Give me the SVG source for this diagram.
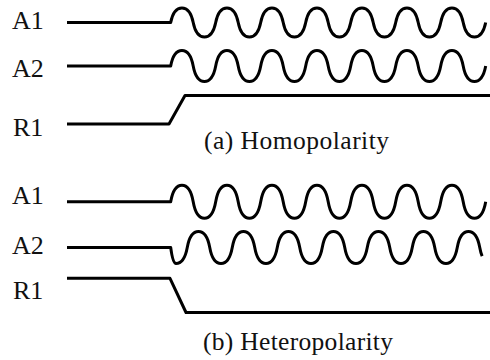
<svg xmlns="http://www.w3.org/2000/svg" width="490" height="360" viewBox="0 0 490 360">
<style>
.sig{fill:none;stroke:#000;stroke-width:3;stroke-linejoin:round;stroke-linecap:butt}
.lbl{font-family:"Liberation Serif","Times New Roman",serif;font-size:26px;fill:#111}
.cap{font-family:"Liberation Serif","Times New Roman",serif;font-size:25.5px;fill:#111}
</style>
<rect width="490" height="360" fill="#fff"/>
<g id="labels-a">
<text class="lbl" x="12" y="29">A1</text>
<text class="lbl" x="12" y="77">A2</text>
<text class="lbl" x="13" y="136">R1</text>
<text class="cap" x="204" y="149" textLength="185" lengthAdjust="spacing">(a) Homopolarity</text>
</g>
<g id="labels-b">
<text class="lbl" x="12" y="204">A1</text>
<text class="lbl" x="12" y="254">A2</text>
<text class="lbl" x="13" y="299">R1</text>
<text class="cap" x="203" y="350" textLength="190" lengthAdjust="spacing">(b) Heteropolarity</text>
</g>
<g id="connectors">
<path id="a-A1" class="sig" d="M67,22.5 H170.7
c1.7,-8.7 5.6,-14.5 11.25,-14.5 c5.6,0 9.5,5.8 11.25,14.5 c1.7,8.7 5.6,14.5 11.25,14.5 c5.6,0 9.5,-5.8 11.25,-14.5
c1.7,-8.7 5.6,-14.5 11.25,-14.5 c5.6,0 9.5,5.8 11.25,14.5 c1.7,8.7 5.6,14.5 11.25,14.5 c5.6,0 9.5,-5.8 11.25,-14.5
c1.7,-8.7 5.6,-14.5 11.25,-14.5 c5.6,0 9.5,5.8 11.25,14.5 c1.7,8.7 5.6,14.5 11.25,14.5 c5.6,0 9.5,-5.8 11.25,-14.5
c1.7,-8.7 5.6,-14.5 11.25,-14.5 c5.6,0 9.5,5.8 11.25,14.5 c1.7,8.7 5.6,14.5 11.25,14.5 c5.6,0 9.5,-5.8 11.25,-14.5
c1.7,-8.7 5.6,-14.5 11.25,-14.5 c5.6,0 9.5,5.8 11.25,14.5 c1.7,8.7 5.6,14.5 11.25,14.5 c5.6,0 9.5,-5.8 11.25,-14.5
c1.7,-8.7 5.6,-14.5 11.25,-14.5 c5.6,0 9.5,5.8 11.25,14.5 c1.7,8.7 5.6,14.5 11.25,14.5 c5.6,0 9.5,-5.8 11.25,-14.5
c1.7,-8.7 5.6,-14.5 11.25,-14.5 c5.6,0 9.5,5.8 11.25,14.5 c1.7,8.7 5.6,14.5 11.25,14.5 c5.6,0 9.5,-5.8 11.25,-14.5"/>
<path id="a-A2" class="sig" d="M67,66 H170.7
c1.7,-9.3 5.6,-15.5 11.25,-15.5 c5.6,0 9.5,6.2 11.25,15.5 c1.7,9.3 5.6,15.5 11.25,15.5 c5.6,0 9.5,-6.2 11.25,-15.5
c1.7,-9.3 5.6,-15.5 11.25,-15.5 c5.6,0 9.5,6.2 11.25,15.5 c1.7,9.3 5.6,15.5 11.25,15.5 c5.6,0 9.5,-6.2 11.25,-15.5
c1.7,-9.3 5.6,-15.5 11.25,-15.5 c5.6,0 9.5,6.2 11.25,15.5 c1.7,9.3 5.6,15.5 11.25,15.5 c5.6,0 9.5,-6.2 11.25,-15.5
c1.7,-9.3 5.6,-15.5 11.25,-15.5 c5.6,0 9.5,6.2 11.25,15.5 c1.7,9.3 5.6,15.5 11.25,15.5 c5.6,0 9.5,-6.2 11.25,-15.5
c1.7,-9.3 5.6,-15.5 11.25,-15.5 c5.6,0 9.5,6.2 11.25,15.5 c1.7,9.3 5.6,15.5 11.25,15.5 c5.6,0 9.5,-6.2 11.25,-15.5
c1.7,-9.3 5.6,-15.5 11.25,-15.5 c5.6,0 9.5,6.2 11.25,15.5 c1.7,9.3 5.6,15.5 11.25,15.5 c5.6,0 9.5,-6.2 11.25,-15.5
c1.7,-9.3 5.6,-15.5 11.25,-15.5 c5.6,0 9.5,6.2 11.25,15.5 c1.7,9.3 5.6,15.5 11.25,15.5 c5.6,0 9.5,-6.2 11.25,-15.5"/>
<path id="a-R1" class="sig" d="M67,124 H169 L185,95.5 H490"/>
<path id="b-A1" class="sig" d="M67,201.7 H170.7
c1.7,-9.9 5.6,-16.5 11.25,-16.5 c5.6,0 9.5,6.6 11.25,16.5 c1.7,9.9 5.6,16.5 11.25,16.5 c5.6,0 9.5,-6.6 11.25,-16.5
c1.7,-9.9 5.6,-16.5 11.25,-16.5 c5.6,0 9.5,6.6 11.25,16.5 c1.7,9.9 5.6,16.5 11.25,16.5 c5.6,0 9.5,-6.6 11.25,-16.5
c1.7,-9.9 5.6,-16.5 11.25,-16.5 c5.6,0 9.5,6.6 11.25,16.5 c1.7,9.9 5.6,16.5 11.25,16.5 c5.6,0 9.5,-6.6 11.25,-16.5
c1.7,-9.9 5.6,-16.5 11.25,-16.5 c5.6,0 9.5,6.6 11.25,16.5 c1.7,9.9 5.6,16.5 11.25,16.5 c5.6,0 9.5,-6.6 11.25,-16.5
c1.7,-9.9 5.6,-16.5 11.25,-16.5 c5.6,0 9.5,6.6 11.25,16.5 c1.7,9.9 5.6,16.5 11.25,16.5 c5.6,0 9.5,-6.6 11.25,-16.5
c1.7,-9.9 5.6,-16.5 11.25,-16.5 c5.6,0 9.5,6.6 11.25,16.5 c1.7,9.9 5.6,16.5 11.25,16.5 c5.6,0 9.5,-6.6 11.25,-16.5
c1.7,-9.9 5.6,-16.5 11.25,-16.5 c5.6,0 9.5,6.6 11.25,16.5 c1.7,9.9 5.6,16.5 11.25,16.5 c5.6,0 9.5,-6.6 11.25,-16.5"/>
<path id="b-A2" class="sig" d="M67,247.5 H170.7
c1.2,9 2.8,16 5.3,16 c5.6,0 9.5,-6.4 11.25,-16
c1.7,-9.6 5.6,-16 11.25,-16 c5.6,0 9.5,6.4 11.25,16 c1.7,9.6 5.6,16 11.25,16 c5.6,0 9.5,-6.4 11.25,-16
c1.7,-9.6 5.6,-16 11.25,-16 c5.6,0 9.5,6.4 11.25,16 c1.7,9.6 5.6,16 11.25,16 c5.6,0 9.5,-6.4 11.25,-16
c1.7,-9.6 5.6,-16 11.25,-16 c5.6,0 9.5,6.4 11.25,16 c1.7,9.6 5.6,16 11.25,16 c5.6,0 9.5,-6.4 11.25,-16
c1.7,-9.6 5.6,-16 11.25,-16 c5.6,0 9.5,6.4 11.25,16 c1.7,9.6 5.6,16 11.25,16 c5.6,0 9.5,-6.4 11.25,-16
c1.7,-9.6 5.6,-16 11.25,-16 c5.6,0 9.5,6.4 11.25,16 c1.7,9.6 5.6,16 11.25,16 c5.6,0 9.5,-6.4 11.25,-16
c1.7,-9.6 5.6,-16 11.25,-16 c5.6,0 9.5,6.4 11.25,16 c1.7,9.6 5.6,16 11.25,16 c5.6,0 9.5,-6.4 11.25,-16
c1.7,-9.6 5.6,-16 11.25,-16 c5.6,0 9.5,6.4 11.25,16 c0.6,3.3 1.3,6.2 2.4,8.6"/>
<path id="b-R1" class="sig" d="M67,278.3 H170 L186,312.5 H490"/>
</g>
</svg>
